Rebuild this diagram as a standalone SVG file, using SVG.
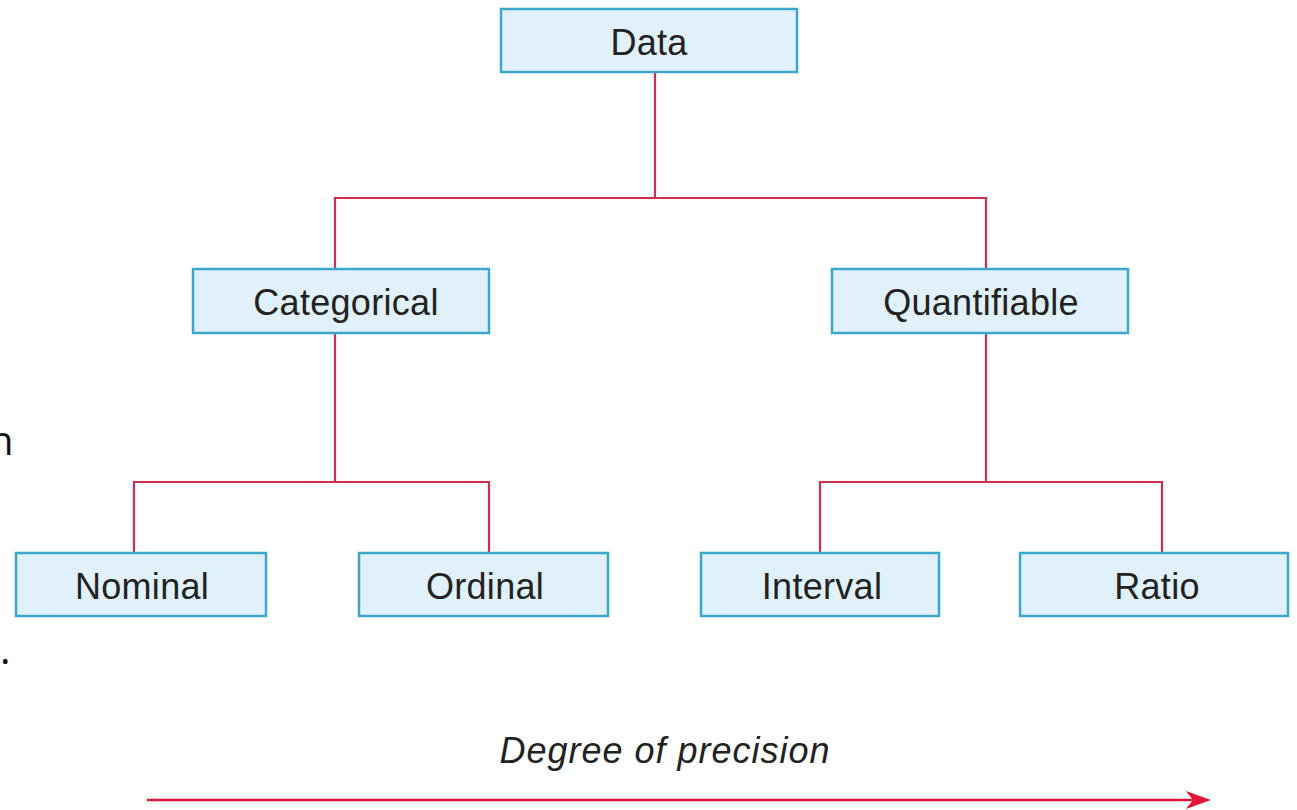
<svg xmlns="http://www.w3.org/2000/svg" width="1297" height="810" viewBox="0 0 1297 810">
<defs>
<style>
.box{fill:#e0f1fb;stroke:#3aa7cb;stroke-width:2.5}
.lbl{font-family:"Liberation Sans",Arial,sans-serif;font-size:36px;fill:#222;text-anchor:middle;letter-spacing:0.3px}
.con{fill:none;stroke:#cf2f4b;stroke-width:2.2}
.frag{font-family:"Open Sans","Liberation Sans",sans-serif;font-size:40px;fill:#111}
</style>
</defs>
<rect width="1297" height="810" fill="#fff"/>
<g id="connectors">
<path class="con" d="M655,72 V198 M335,269 V198 H986 V269"/>
<path class="con" d="M335,333 V482 M134,553 V482 H489 V553"/>
<path class="con" d="M986,333 V482 M820,553 V482 H1162 V553"/>
<line x1="147" y1="800" x2="1196" y2="800" stroke="#e0163c" stroke-width="2.5"/>
<path d="M1186,791 L1211,800 L1186,809 L1193,800 Z" fill="#e0163c"/>
</g>
<g id="data"><rect class="box" x="501" y="9" width="296" height="63"/><text class="lbl" x="649" y="55">Data</text></g>
<g id="categorical"><rect class="box" x="193" y="269" width="296" height="64"/><text class="lbl" x="346" y="315">Categorical</text></g>
<g id="quantifiable"><rect class="box" x="832" y="269" width="296" height="64"/><text class="lbl" x="981" y="315">Quantifiable</text></g>
<g id="nominal"><rect class="box" x="16" y="553" width="250" height="63"/><text class="lbl" x="142" y="599">Nominal</text></g>
<g id="ordinal"><rect class="box" x="359" y="553" width="249" height="63"/><text class="lbl" x="485" y="599">Ordinal</text></g>
<g id="interval"><rect class="box" x="701" y="553" width="238" height="63"/><text class="lbl" x="822" y="599">Interval</text></g>
<g id="ratio"><rect class="box" x="1020" y="553" width="268" height="63"/><text class="lbl" x="1157" y="599">Ratio</text></g>
<g id="caption"><text x="665" y="763" style="font-family:'Liberation Sans',Arial,sans-serif;font-size:36px;font-style:italic;fill:#222;text-anchor:middle;letter-spacing:1px">Degree of precision</text></g>
<text class="frag" x="-11" y="455">n</text>
<text class="frag" x="0" y="664">.</text>
</svg>
